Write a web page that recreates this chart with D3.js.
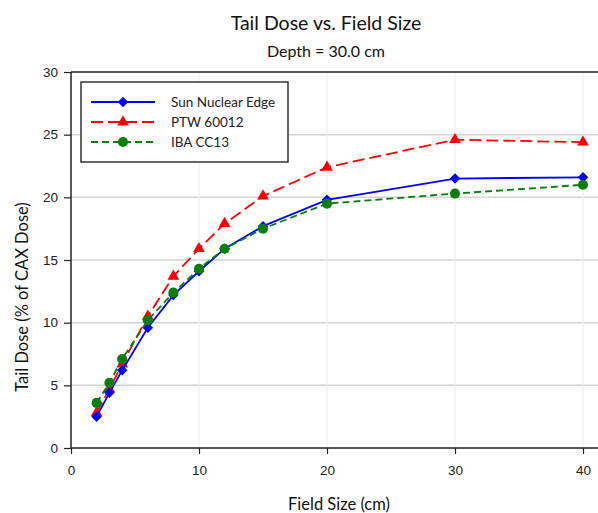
<!DOCTYPE html>
<html>
<head>
<meta charset="utf-8">
<script src="https://cdn.jsdelivr.net/npm/d3@7"></script>
<style>
  html, body { margin: 0; padding: 0; background: #fff; }
  svg { display: block; font-family: Lato, "Open Sans", sans-serif; }
</style>
</head>
<body>
<svg id="chart" width="598" height="513"></svg>
<script>
// Field sizes (cm) measured for each detector
const fieldSizes = [2, 3, 4, 6, 8, 10, 12, 15, 20, 30, 40];

// Tail dose, % of CAX dose, at 30.0 cm depth
const sunNuclearEdge = [2.5, 4.4, 6.2, 9.6, 12.2, 14.1, 15.9, 17.7, 19.8, 21.5, 21.6];
const ptw60012      = [2.8, 4.7, 6.7, 10.5, 13.7, 15.9, 17.9, 20.1, 22.4, 24.6, 24.4];
const ibaCC13       = [3.6, 5.2, 7.1, 10.2, 12.4, 14.3, 15.9, 17.5, 19.5, 20.3, 21.0];

const seriesNames = ["Sun Nuclear Edge", "PTW 60012", "IBA CC13"];
const xTicks = [0, 10, 20, 30, 40];
const yTicks = [0, 5, 10, 15, 20, 25, 30];

const svg = d3.select("#chart");
const W = 598, H = 513;
const margin = { left: 71, top: 72, bottom: 64 };

const x = d3.scaleLinear().domain([0, 42]).range([margin.left, margin.left + 42 * 12.8]);
const y = d3.scaleLinear().domain([0, 30]).range([H - margin.bottom - 1, margin.top]);

const styles = [
  { name: seriesNames[0], values: sunNuclearEdge, color: "#0000ff", dash: null,    marker: d3.symbolDiamond2, size: 70 },
  { name: seriesNames[1], values: ptw60012,      color: "#ff0000", dash: "12,5",  marker: d3.symbolTriangle, size: 60 },
  { name: seriesNames[2], values: ibaCC13,       color: "#0a7d0a", dash: "7,4",   marker: d3.symbolCircle,   size: 80 }
];

// Grid lines
svg.append("g").selectAll("line.h")
  .data(yTicks.filter(t => t > 0 && t < 30))
  .join("line")
  .attr("x1", x(0)).attr("x2", W)
  .attr("y1", d => y(d)).attr("y2", d => y(d))
  .attr("stroke", "#d4d4d4").attr("stroke-width", 1.5);

svg.append("g").selectAll("line.v")
  .data(xTicks.filter(t => t > 0))
  .join("line")
  .attr("x1", d => x(d)).attr("x2", d => x(d))
  .attr("y1", y(30)).attr("y2", y(0))
  .attr("stroke", "#ececec").attr("stroke-width", 1);

// Top frame line
svg.append("line")
  .attr("x1", x(0)).attr("x2", W)
  .attr("y1", y(30)).attr("y2", y(30))
  .attr("stroke", "#222").attr("stroke-width", 1.5);

// Axes
const xAxis = svg.append("g")
  .attr("transform", `translate(0,${y(0)})`)
  .call(d3.axisBottom(x).tickValues(xTicks).tickSize(6).tickPadding(11).tickFormat(d3.format("d")));
xAxis.select(".domain").attr("d", `M${x(0)},0H${W}`).attr("stroke", "#222").attr("stroke-width", 1.5);

const yAxis = svg.append("g")
  .attr("transform", `translate(${x(0)},0)`)
  .call(d3.axisLeft(y).tickValues(yTicks).tickSize(7).tickPadding(6).tickFormat(d3.format("d")));
yAxis.select(".domain").attr("d", `M0,${y(0)}V${y(30)}`).attr("stroke", "#222").attr("stroke-width", 1.5);

[xAxis, yAxis].forEach(g => {
  g.selectAll(".tick line").attr("stroke", "#222").attr("stroke-width", 1.2);
  g.selectAll(".tick text").attr("fill", "#222").style("font-size", "13.5px");
});

// Series: draw PTW first, then Sun Nuclear, then IBA on top
const drawOrder = [1, 0, 2];
const line = d3.line().x((d, i) => x(fieldSizes[i])).y(d => y(d));

drawOrder.forEach(k => {
  const s = styles[k];
  const g = svg.append("g");
  g.append("path")
    .attr("d", line(s.values))
    .attr("fill", "none")
    .attr("stroke", s.color)
    .attr("stroke-width", 1.8)
    .attr("stroke-dasharray", s.dash);
  g.selectAll("path.m")
    .data(s.values)
    .join("path")
    .attr("class", "m")
    .attr("transform", (d, i) => `translate(${x(fieldSizes[i])},${y(d)})`)
    .attr("d", d3.symbol().type(s.marker).size(s.size))
    .attr("fill", s.color);
});

// Legend
const legend = svg.append("g");
legend.append("rect")
  .attr("x", 81).attr("y", 82).attr("width", 207).attr("height", 80)
  .attr("fill", "#fff").attr("stroke", "#333").attr("stroke-width", 1.5);

styles.forEach((s, i) => {
  const ly = 102 + i * 20;
  legend.append("line")
    .attr("x1", 91).attr("x2", 155)
    .attr("y1", ly).attr("y2", ly)
    .attr("stroke", s.color).attr("stroke-width", 1.8)
    .attr("stroke-dasharray", s.dash);
  legend.append("path")
    .attr("transform", `translate(123,${ly})`)
    .attr("d", d3.symbol().type(s.marker).size(s.size))
    .attr("fill", s.color);
  legend.append("text")
    .attr("x", 171).attr("y", ly + 5)
    .attr("fill", "#222").style("font-size", "13.5px")
    .text(s.name);
});

// Titles
svg.append("text")
  .attr("x", 326).attr("y", 30).attr("text-anchor", "middle")
  .attr("fill", "#111").style("font-size", "19.5px")
  .text("Tail Dose vs. Field Size");
svg.append("text")
  .attr("x", 326).attr("y", 57).attr("text-anchor", "middle")
  .attr("fill", "#111").style("font-size", "16px")
  .text("Depth = 30.0 cm");

svg.append("text")
  .attr("x", 339).attr("y", 510).attr("text-anchor", "middle")
  .attr("fill", "#111").style("font-size", "16.5px")
  .text("Field Size (cm)");
svg.append("text")
  .attr("transform", "translate(28,297) rotate(-90)")
  .attr("text-anchor", "middle")
  .attr("fill", "#111").style("font-size", "16.5px")
  .text("Tail Dose (% of CAX Dose)");
</script>
</body>
</html>
